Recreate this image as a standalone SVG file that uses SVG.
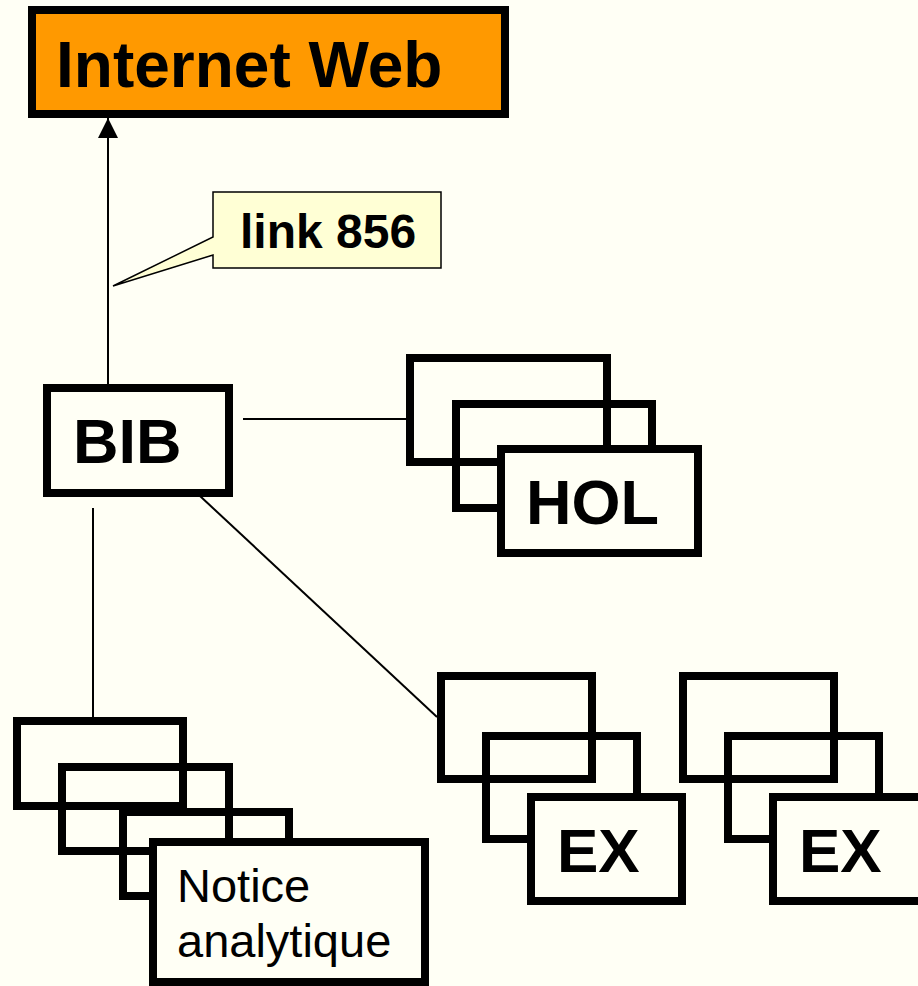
<svg xmlns="http://www.w3.org/2000/svg" width="918" height="986" viewBox="0 0 918 986">
<defs>
<style>
.box{fill:none;stroke:#000;stroke-width:8}
.front{fill:#FFFFF5;stroke:#000;stroke-width:8}
.conn{stroke:#000;stroke-width:2;fill:none}
.bold{font-family:"Liberation Sans",Arial,sans-serif;font-weight:bold;fill:#000}
.reg{font-family:"Liberation Sans",Arial,sans-serif;fill:#000}
</style>
<marker id="arrow" viewBox="0 0 20 20" refX="20" refY="10" markerWidth="20" markerHeight="20" markerUnits="userSpaceOnUse" orient="auto">
<path d="M0,0 L20,10 L0,20 z" fill="#000"/>
</marker>
</defs>
<rect width="918" height="986" fill="#FFFFF5"/>
<g id="connectors">
<line class="conn" x1="108" y1="384" x2="108" y2="118" marker-end="url(#arrow)"/>
<line class="conn" x1="243" y1="419" x2="406" y2="419"/>
<line class="conn" x1="93" y1="508" x2="93" y2="717"/>
<line class="conn" x1="200" y1="496" x2="437" y2="717"/>
</g>
<g id="internet">
<rect x="32" y="10" width="473" height="104" fill="#FF9900" stroke="#000" stroke-width="8"/>
<text class="bold" x="56" y="87" font-size="64">Internet Web</text>
</g>
<g id="callout">
<path d="M213,192 H441 V268 H213 V255 L113,286 L213,237 Z" fill="#FFFFD5" stroke="#000" stroke-width="1.5"/>
<text class="bold" x="240" y="248" font-size="48">link 856</text>
</g>
<g id="bib">
<rect class="front" x="47" y="388" width="182" height="105"/>
<text class="bold" x="73" y="463" font-size="63">BIB</text>
</g>
<g id="hol">
<rect class="box" x="410" y="358" width="197" height="104"/>
<rect class="box" x="456" y="404" width="196" height="104"/>
<rect class="front" x="501" y="449" width="197" height="104"/>
<text class="bold" x="526" y="524" font-size="63">HOL</text>
</g>
<g id="notice">
<rect class="box" x="17" y="721" width="166" height="85"/>
<rect class="box" x="62" y="767" width="167" height="84"/>
<rect class="box" x="123" y="812" width="166" height="84"/>
<rect class="front" x="153" y="842" width="272" height="140"/>
<text class="reg" x="177" y="902" font-size="47">Notice</text>
<text class="reg" x="177" y="957" font-size="47">analytique</text>
</g>
<g id="ex1">
<rect class="box" x="441" y="676" width="151" height="103"/>
<rect class="box" x="486" y="736" width="151" height="103"/>
<rect class="front" x="531" y="797" width="151" height="104"/>
<text class="bold" x="557" y="872" font-size="62">EX</text>
</g>
<g id="ex2">
<rect class="box" x="683" y="676" width="151" height="103"/>
<rect class="box" x="728" y="736" width="151" height="103"/>
<rect class="front" x="773" y="797" width="151" height="104"/>
<text class="bold" x="799" y="872" font-size="62">EX</text>
</g>
</svg>
